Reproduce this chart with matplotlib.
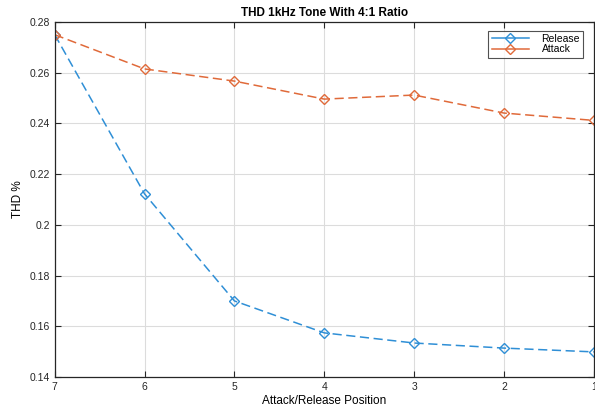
import matplotlib.pyplot as plt

positions = [7, 6, 5, 4, 3, 2, 1]
release = [0.275, 0.2122, 0.1700, 0.1574, 0.1534, 0.1514, 0.1499]
attack = [0.275, 0.2615, 0.2567, 0.2496, 0.2512, 0.2441, 0.2412]
yticks = [0.14, 0.16, 0.18, 0.2, 0.22, 0.24, 0.26, 0.28]

plt.rcParams['font.family'] = ['Liberation Sans', 'DejaVu Sans']

fig = plt.figure(figsize=(5.95, 4.08), dpi=100)
ax = fig.add_axes([0.092, 0.076, 0.906, 0.870])

ax.plot(positions, release, '--D', color='#2f8fd6', lw=1.1, ms=5,
        mfc='none', mew=1.0, dashes=(6, 3), label='Release')
ax.plot(positions, attack, '--D', color='#e06a3a', lw=1.1, ms=5,
        mfc='none', mew=1.0, dashes=(6, 3), label='Attack')

ax.set_xlim(7, 1)
ax.set_ylim(0.14, 0.28)
ax.set_xticks(positions)
ax.set_yticks(yticks)
ax.set_yticklabels(['0.14', '0.16', '0.18', '0.2', '0.22', '0.24', '0.26', '0.28'])
ax.grid(True, color='#dcdcdc', lw=0.8)
ax.tick_params(direction='in', top=True, right=True, labelsize=7.5,
               colors='#262626', length=4, width=0.8)
for s in ax.spines.values():
    s.set_color('#262626')
    s.set_linewidth(0.9)

ax.set_title('THD 1kHz Tone With 4:1 Ratio', fontsize=8.5, fontweight='bold', pad=4)
ax.set_xlabel('Attack/Release Position', fontsize=8.5, labelpad=2)
ax.set_ylabel('THD %', fontsize=8.5, labelpad=4)

leg = ax.legend(loc='upper right', fontsize=7.5, frameon=True, fancybox=False,
                edgecolor='#262626', handlelength=3.6, borderpad=0.3,
                labelspacing=0.05, handletextpad=1.2,
                bbox_to_anchor=(0.99, 0.99))
leg.get_frame().set_linewidth(0.8)
for line in leg.get_lines():
    line.set_linestyle('-')

fig.savefig('out.png', dpi=100)
